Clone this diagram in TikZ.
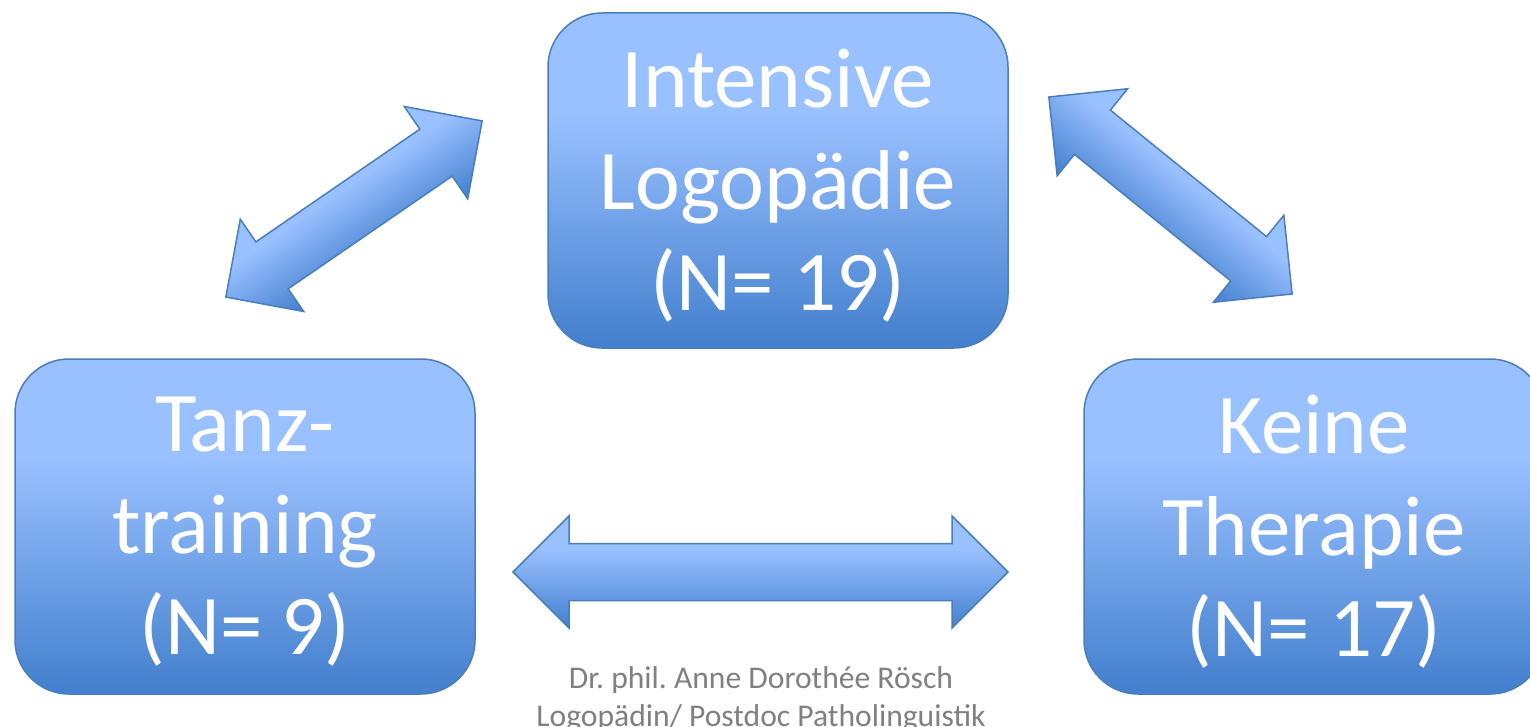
\documentclass[tikz,border=0pt]{standalone}
\usepackage{fontspec}
\setmainfont{Carlito}
\frenchspacing
\usetikzlibrary{positioning,calc}
\definecolor{hell}{RGB}{153,192,255}
\definecolor{dunkel}{RGB}{66,127,205}
\definecolor{rand}{RGB}{74,126,187}
\definecolor{grautext}{RGB}{128,128,128}
\pgfdeclareverticalshading{kachel}{100bp}{color(0bp)=(dunkel); color(25bp)=(dunkel); color(60bp)=(hell); color(100bp)=(hell)}

\begin{document}
\begin{tikzpicture}[x=0.5pt, y=-0.5pt, font=\fontsize{42.5}{50.75}\selectfont,
  gruppe/.style={draw=rand, line width=0.75pt, shading=kachel, rounded corners=27pt, minimum width=230pt, minimum height=167.5pt},
  schrift/.style={align=center, text=white, inner sep=0pt},
  pfeil/.style={draw=rand, line width=0.75pt, shading=kachel}]
\useasboundingbox (0,0) rectangle (1530,727);
\clip (0,0) rectangle (1530,727);
\node[gruppe] (logo) at (778,180.5) {};
\node[gruppe] (tanz) at (245,526.5) {};
\node[gruppe] (keine) at (1314,526.5) {};
\node[schrift] (logotext) at ([yshift=-2.75pt]logo.center) {Intensive\\Logopädie\\(N= 19)};
\node[schrift] (tanztext) at ([yshift=-2.75pt]tanz.center) {Tanz-\\training\\(N= 9)};
\node[schrift] (keinetext) at ([yshift=-2.75pt]keine.center) {Keine\\Therapie\\(N= 17)};
% Doppelpfeile: Mitte x/y, Winkel, halbe Laenge
\foreach \cx/\cy/\ang/\hl in {354/209/34.5/155.5, 1170.5/195.5/-39/156.5, 760.5/572/0/247.5}{
  \begin{scope}[transform canvas={shift={(\cx,\cy)}, rotate=\ang}]
    \path[pfeil] (-\hl,0) -- (-\hl+56,-56) -- (-\hl+56,-28.5) -- (\hl-56,-28.5) -- (\hl-56,-56) -- (\hl,0)
      -- (\hl-56,56) -- (\hl-56,28.5) -- (-\hl+56,28.5) -- (-\hl+56,56) -- cycle;
  \end{scope}}
\node[text=grautext, font=\fontsize{15.8}{19}\selectfont, align=center] (autor) at (761,699) {Dr. phil. Anne Dorothée Rösch\\Logopädin/ Postdoc Patholinguistik};
\end{tikzpicture}
\end{document}
